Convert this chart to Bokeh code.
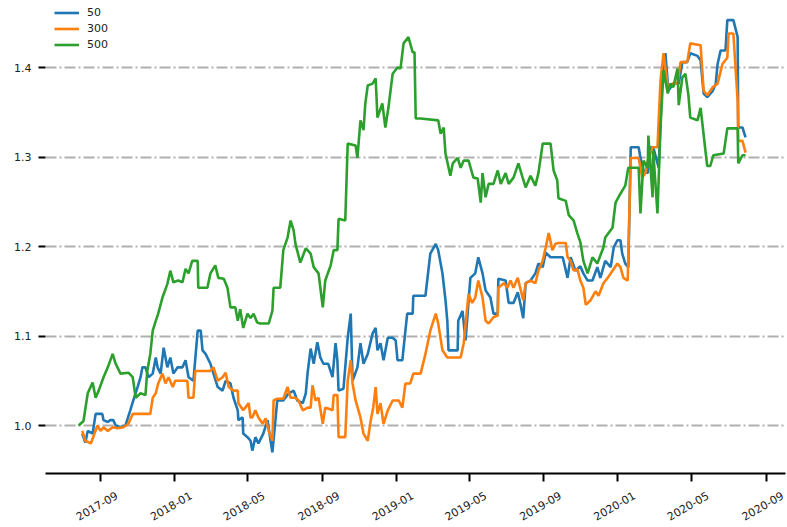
import math
import pandas as pd
from bokeh.plotting import figure
from bokeh.models import (Range1d, FixedTicker, Legend, LegendItem, PrintfTickFormatter,
                          DatetimeAxis)
from bokeh.embed import file_html
from bokeh.resources import INLINE

# ---------------- data (days since BASE, value) ----------------
BASE = "2017-09-01"

day_50 = [-30, -25, -21, -13, -8, 3, 5, 12, 16, 21, 25, 33, 41, 49, 54, 61, 66, 69, 74, 79,
          86, 91, 94, 99, 104, 110, 115, 120, 127, 135, 140, 145, 153, 160, 165, 168, 173, 181, 193, 201,
          206, 214, 219, 226, 227, 234, 235, 242, 247, 250, 255, 260, 268, 275, 280, 283, 288, 291, 301, 310,
          318, 324, 333, 338, 341, 346, 351, 357, 362, 367, 375, 382, 387, 390, 392, 400, 407, 412, 415, 423,
          428, 433, 440, 448, 453, 456, 461, 466, 473, 481, 486, 489, 497, 502, 505, 514, 515, 535, 543, 552,
          556, 563, 568, 571, 573, 588, 589, 596, 601, 609, 617, 622, 629, 634, 642, 647, 654, 655, 667, 672,
          680, 687, 691, 696, 700, 708, 716, 721, 728, 733, 741, 761, 769, 774, 782, 790, 795, 802, 810, 818,
          823, 831, 840, 845, 851, 856, 859, 864, 869, 873, 886, 889, 894, 901, 906, 910, 919, 925, 930, 935,
          943, 952, 958, 966, 971, 983, 988, 993, 999, 1008, 1013, 1016, 1021, 1029, 1032, 1042, 1049, 1050, 1057, 1062]
val_50 = [0.991, 0.981, 0.994, 0.991, 1.013, 1.013, 1.006, 1.004, 1.006, 1.006, 1.000, 0.998, 1.000, 1.017, 1.028, 1.043, 1.054, 1.065, 1.065, 1.054,
          1.058, 1.076, 1.065, 1.058, 1.087, 1.065, 1.076, 1.058, 1.065, 1.065, 1.073, 1.054, 1.050, 1.106, 1.106, 1.084, 1.080, 1.069, 1.043, 1.039,
          1.050, 1.047, 1.031, 1.017, 1.006, 1.009, 0.991, 0.987, 0.983, 0.972, 0.987, 0.980, 0.991, 1.006, 0.983, 0.970, 1.006, 1.028, 1.028, 1.036,
          1.039, 1.028, 1.025, 1.036, 1.059, 1.086, 1.069, 1.093, 1.076, 1.069, 1.069, 1.054, 1.092, 1.073, 1.039, 1.041, 1.098, 1.125, 1.050, 1.065,
          1.092, 1.069, 1.080, 1.103, 1.109, 1.084, 1.092, 1.073, 1.098, 1.098, 1.095, 1.073, 1.073, 1.106, 1.125, 1.125, 1.145, 1.145, 1.192, 1.203,
          1.196, 1.170, 1.140, 1.117, 1.084, 1.084, 1.117, 1.128, 1.095, 1.165, 1.170, 1.188, 1.170, 1.151, 1.143, 1.125, 1.125, 1.164, 1.162, 1.137,
          1.137, 1.149, 1.137, 1.120, 1.159, 1.162, 1.170, 1.181, 1.177, 1.193, 1.188, 1.188, 1.165, 1.188, 1.173, 1.178, 1.170, 1.162, 1.162, 1.177,
          1.165, 1.184, 1.177, 1.199, 1.207, 1.207, 1.192, 1.181, 1.177, 1.311, 1.311, 1.299, 1.285, 1.282, 1.311, 1.311, 1.288, 1.389, 1.416, 1.374,
          1.382, 1.382, 1.406, 1.406, 1.416, 1.413, 1.408, 1.371, 1.367, 1.374, 1.382, 1.404, 1.419, 1.419, 1.453, 1.453, 1.434, 1.333, 1.333, 1.322]

day_300 = [-30, -25, -16, -12, -5, 0, 5, 12, 20, 28, 38, 46, 53, 82, 86, 91, 95, 102, 107, 112,
           119, 123, 143, 145, 153, 156, 181, 186, 193, 201, 206, 211, 219, 226, 227, 235, 244, 247, 250, 255,
           260, 267, 272, 277, 283, 285, 291, 301, 308, 313, 321, 326, 333, 341, 346, 349, 354, 359, 366, 370,
           375, 382, 384, 390, 392, 403, 407, 412, 415, 420, 428, 433, 440, 445, 449, 453, 456, 461, 466, 473,
           481, 491, 497, 502, 510, 515, 527, 535, 543, 552, 556, 563, 571, 593, 598, 606, 612, 617, 622, 629,
           634, 639, 647, 654, 655, 664, 670, 675, 680, 687, 691, 696, 700, 708, 716, 721, 728, 733, 738, 744,
           749, 754, 766, 769, 774, 779, 785, 790, 795, 799, 807, 815, 820, 828, 835, 843, 851, 856, 861, 868,
           873, 886, 892, 897, 902, 909, 917, 922, 927, 934, 942, 950, 955, 966, 971, 988, 993, 999, 1008, 1016,
           1024, 1032, 1034, 1042, 1049, 1050, 1057, 1062]
val_300 = [0.994, 0.983, 0.980, 0.987, 1.000, 0.994, 0.998, 0.994, 0.998, 0.997, 0.998, 1.002, 1.013, 1.013, 1.031, 1.036, 1.047, 1.058, 1.047, 1.054,
           1.043, 1.050, 1.050, 1.031, 1.031, 1.061, 1.061, 1.065, 1.050, 1.054, 1.059, 1.043, 1.039, 1.039, 1.025, 1.017, 1.025, 1.009, 1.009, 1.017,
           1.009, 1.002, 1.008, 0.994, 0.983, 1.028, 1.030, 1.030, 1.043, 1.031, 1.031, 1.028, 1.017, 1.020, 1.020, 1.045, 1.028, 1.031, 1.002, 1.020,
           1.019, 1.017, 1.034, 1.034, 0.987, 0.987, 1.050, 1.073, 1.047, 1.028, 1.009, 0.991, 0.983, 1.006, 1.020, 1.043, 1.013, 1.025, 1.002, 1.017,
           1.028, 1.028, 1.020, 1.047, 1.047, 1.058, 1.058, 1.080, 1.106, 1.125, 1.114, 1.084, 1.076, 1.076, 1.092, 1.147, 1.137, 1.143, 1.162, 1.143,
           1.117, 1.114, 1.121, 1.123, 1.154, 1.159, 1.154, 1.162, 1.154, 1.165, 1.154, 1.140, 1.159, 1.162, 1.159, 1.173, 1.184, 1.199, 1.215, 1.196,
           1.203, 1.204, 1.204, 1.188, 1.184, 1.173, 1.175, 1.162, 1.154, 1.135, 1.140, 1.150, 1.145, 1.159, 1.165, 1.173, 1.181, 1.177, 1.165, 1.162,
           1.299, 1.299, 1.277, 1.282, 1.299, 1.311, 1.311, 1.385, 1.416, 1.378, 1.382, 1.382, 1.406, 1.406, 1.427, 1.425, 1.374, 1.369, 1.378, 1.382,
           1.404, 1.411, 1.438, 1.438, 1.363, 1.318, 1.318, 1.305]

day_500 = [-36, -28, -21, -13, -8, -3, 5, 12, 20, 25, 33, 46, 53, 58, 66, 74, 77, 82, 86, 91,
           95, 102, 110, 115, 120, 128, 135, 140, 145, 151, 160, 161, 176, 181, 189, 194, 203, 209, 214, 222,
           226, 230, 235, 242, 247, 252, 258, 263, 277, 283, 285, 296, 301, 308, 313, 318, 321, 329, 338, 346,
           351, 359, 366, 370, 379, 384, 390, 392, 403, 407, 420, 423, 428, 433, 436, 440, 448, 453, 456, 464,
           469, 474, 481, 489, 494, 499, 507, 514, 517, 519, 527, 556, 560, 565, 568, 576, 580, 588, 593, 598,
           606, 614, 621, 626, 629, 634, 639, 647, 654, 659, 667, 672, 680, 688, 695, 700, 708, 716, 721, 728,
           741, 746, 752, 754, 766, 771, 779, 785, 790, 795, 802, 810, 818, 828, 831, 843, 848, 856, 864, 869,
           886, 889, 894, 901, 902, 909, 910, 917, 922, 927, 934, 938, 943, 950, 952, 958, 963, 968, 971, 983,
           988, 991, 996, 999, 1004, 1009, 1026, 1032, 1049, 1050, 1057, 1062]
val_500 = [1.000, 1.005, 1.036, 1.048, 1.031, 1.039, 1.054, 1.065, 1.080, 1.069, 1.058, 1.059, 1.054, 1.031, 1.036, 1.034, 1.061, 1.080, 1.106, 1.117,
           1.125, 1.143, 1.158, 1.173, 1.160, 1.162, 1.160, 1.175, 1.170, 1.184, 1.184, 1.154, 1.154, 1.170, 1.179, 1.165, 1.164, 1.154, 1.132, 1.132,
           1.117, 1.130, 1.109, 1.125, 1.120, 1.125, 1.115, 1.114, 1.114, 1.128, 1.154, 1.154, 1.196, 1.210, 1.229, 1.218, 1.203, 1.182, 1.198, 1.192,
           1.177, 1.170, 1.132, 1.162, 1.179, 1.196, 1.196, 1.231, 1.229, 1.315, 1.313, 1.299, 1.341, 1.330, 1.360, 1.380, 1.382, 1.388, 1.344, 1.360,
           1.333, 1.355, 1.393, 1.400, 1.399, 1.427, 1.434, 1.417, 1.417, 1.343, 1.343, 1.341, 1.326, 1.333, 1.304, 1.279, 1.293, 1.299, 1.288, 1.296,
           1.296, 1.277, 1.276, 1.249, 1.282, 1.255, 1.270, 1.270, 1.285, 1.270, 1.282, 1.270, 1.277, 1.293, 1.277, 1.266, 1.279, 1.268, 1.282, 1.315,
           1.315, 1.285, 1.274, 1.254, 1.251, 1.235, 1.229, 1.215, 1.205, 1.184, 1.170, 1.188, 1.181, 1.199, 1.210, 1.221, 1.249, 1.259, 1.268, 1.288,
           1.288, 1.237, 1.296, 1.288, 1.324, 1.255, 1.307, 1.237, 1.333, 1.397, 1.371, 1.382, 1.378, 1.399, 1.358, 1.389, 1.393, 1.369, 1.344, 1.341,
           1.355, 1.337, 1.307, 1.290, 1.290, 1.302, 1.304, 1.332, 1.332, 1.293, 1.302, 1.302]

series_names = ["50", "300", "500"]
series_colors = ["#1f77b4", "#ff7f0e", "#2ca02c"]
x_tick_labels = ["2017-09", "2018-01", "2018-05", "2018-09", "2019-01",
                 "2019-05", "2019-09", "2020-01", "2020-05", "2020-09"]
y_ticks = [1.0, 1.1, 1.2, 1.3, 1.4]

# ---------------- figure ----------------
base = pd.Timestamp(BASE)


def to_dt(days):
    return base + pd.to_timedelta(days, unit="D")


x_start = base + pd.Timedelta(days=-90.55)
x_end = base + pd.Timedelta(days=1127.8)

FONT = "DejaVu Sans"
TXT = "#222222"

p = figure(width=786, height=527, x_axis_type="datetime", x_axis_location=None,
           x_range=Range1d(x_start, x_end), y_range=Range1d(0.9464, 1.4749),
           output_backend="svg", toolbar_location=None,
           min_border_left=45, min_border_right=1, min_border_top=0, min_border_bottom=54)

renderers = []
for days, vals, color in zip([day_50, day_300, day_500], [val_50, val_300, val_500], series_colors):
    r = p.line(to_dt(days), vals, line_color=color, line_width=2.6)
    renderers.append(r)

legend = Legend(items=[LegendItem(label=n, renderers=[r]) for n, r in zip(series_names, renderers)],
                location=(9, 422), border_line_color=None, background_fill_alpha=0,
                label_text_font=FONT, label_text_font_size="11px", label_text_color=TXT,
                glyph_width=25, glyph_height=13, label_height=13, spacing=3,
                padding=0, margin=0, label_standoff=8)
p.add_layout(legend)

# x axis: tick marks at the month starts (drawn as minor ticks), rotated labels
# anchored a little to the right so that each label is centred under its tick
tick_ms = [pd.Timestamp(t).value / 1e6 for t in x_tick_labels]
shift_ms = 27 * 86400000.0
label_ms = [t + shift_ms for t in tick_ms]
xaxis = DatetimeAxis(ticker=FixedTicker(ticks=label_ms, minor_ticks=tick_ms),
                     major_label_overrides={m: lab for m, lab in zip(label_ms, x_tick_labels)},
                     axis_line_width=2, axis_line_color="black",
                     major_tick_line_color=None, major_tick_out=0, major_tick_in=0,
                     minor_tick_line_color="black", minor_tick_line_width=2,
                     minor_tick_out=8, minor_tick_in=0,
                     major_label_orientation=math.pi / 6, major_label_standoff=13,
                     major_label_text_font=FONT, major_label_text_font_size="11px",
                     major_label_text_color=TXT)
p.add_layout(xaxis, "below")

p.yaxis.ticker = FixedTicker(ticks=y_ticks)
p.yaxis.formatter = PrintfTickFormatter(format="%.1f")
p.yaxis.axis_line_color = None
p.yaxis.major_tick_line_width = 2
p.yaxis.major_tick_out = 7
p.yaxis.major_tick_in = 0
p.yaxis.minor_tick_line_color = None
p.yaxis.major_label_standoff = 7
p.yaxis.major_label_text_font = FONT
p.yaxis.major_label_text_font_size = "11px"
p.yaxis.major_label_text_color = TXT

p.xgrid.visible = False
p.ygrid.grid_line_color = "#b0b0b0"
p.ygrid.grid_line_dash = "11 3 2 3"
p.ygrid.grid_line_width = 1.8
p.outline_line_color = None

open("out.html", "w").write(file_html(p, INLINE))
